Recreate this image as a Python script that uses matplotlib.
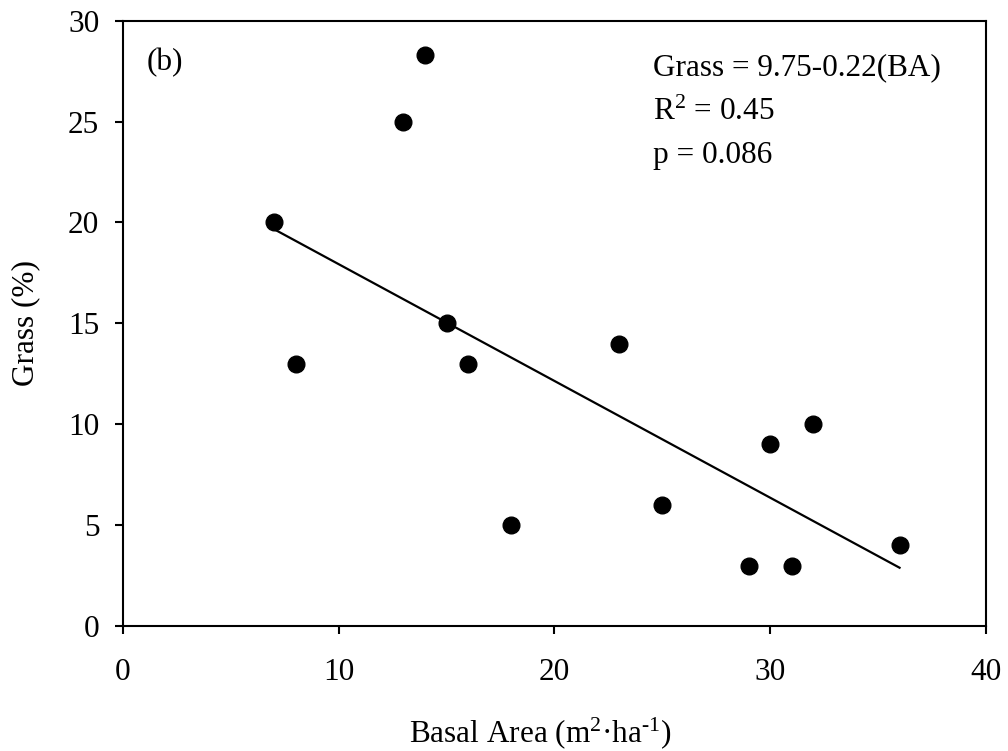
import numpy as np
import matplotlib
matplotlib.use('Agg')
from matplotlib import pyplot as plt

plt.rcParams['font.family'] = ['Liberation Serif', 'DejaVu Serif']
plt.rcParams['mathtext.fontset'] = 'custom'
plt.rcParams['mathtext.rm'] = 'Liberation Serif'
plt.rcParams['mathtext.it'] = 'Liberation Serif:italic'

# basal area (m2/ha) and grass cover (%) per plot
basal_area = [7, 8, 13, 14, 15, 16, 18, 23, 25, 29, 30, 31, 32, 36]
grass_cover = [20, 13, 25, 28.3, 15, 13, 5, 14, 6, 3, 9, 3, 10, 4]

# fitted line endpoints
fit_x = [7, 36]
fit_y = [19.67, 2.89]

fs = 22.5

fig = plt.figure(figsize=(10.08, 7.51), dpi=100)
ax = fig.add_axes([0.122, 0.1664, 0.856, 0.806])

ax.plot(fit_x, fit_y, color='black', linewidth=1.6, zorder=2)
ax.plot(basal_area, grass_cover, 'o', color='black', markersize=12, zorder=3)

ax.set_xlim(0, 40)
ax.set_ylim(0, 30)
ax.set_xticks(np.arange(0, 41, 10))
ax.set_yticks(np.arange(0, 31, 5))
ax.tick_params(axis='both', direction='out', length=6, width=1.5, labelsize=fs)
ax.tick_params(axis='x', pad=17)
ax.tick_params(axis='y', pad=11)
for s in ax.spines.values():
    s.set_linewidth(1.5)

ax.set_xlabel(r'Basal Area (m$^{\mathregular{2}}$'+'\u00b7'+r'ha$^{\mathregular{\text{-}1}}$)', fontsize=fs)
ax.xaxis.set_label_coords(0.484, -0.148)
ax.set_ylabel('Grass (%)', fontsize=fs, labelpad=20)

ax.text(1.1, 27.55, '(b)', fontsize=fs, va='baseline')
ax.text(24.57, 27.30, 'Grass = 9.75-0.22(BA)', fontsize=fs, va='baseline')
ax.text(24.57, 25.07, r'R$^{\mathregular{2}}$ = 0.45', fontsize=fs, va='baseline')
ax.text(24.57, 22.94, 'p = 0.086', fontsize=fs, va='baseline')

fig.savefig('out.png', dpi=100)
